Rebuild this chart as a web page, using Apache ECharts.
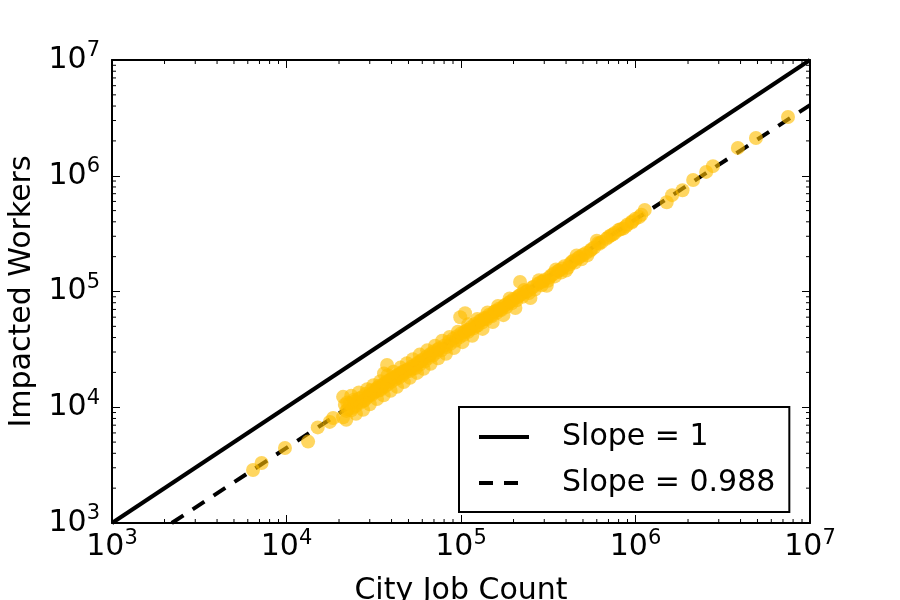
<!DOCTYPE html>
<html>
<head>
<meta charset="utf-8">
<script src="https://cdn.jsdelivr.net/npm/echarts@6/dist/echarts.min.js"></script>
<style>
  html, body { margin: 0; padding: 0; background: #fff; }
  #main { width: 900px; height: 600px; }
</style>
</head>
<body>
<div id="main"></div>
<script>
// city job count vs impacted workers
var cityPoints = [
  [6430, 2870], [7200, 3300], [9800, 4450], [13300, 5050], [15100, 6700], [17700, 7470],
  [18500, 8070], [21100, 8200], [21100, 12300], [21600, 10500], [22000, 9300], [22300, 11000],
  [22500, 9600], [23000, 10800], [23500, 9400], [24000, 9900], [24300, 11600], [24500, 11200],
  [25000, 10300], [25500, 10900], [26000, 11900], [26500, 10900], [27000, 12200], [27500, 11300],
  [28000, 11500], [28500, 13100], [29000, 12100], [29500, 12600], [30000, 12900], [30500, 14000],
  [31000, 12800], [31500, 13300], [32000, 13600], [32500, 14200], [33000, 14700], [33500, 13900],
  [34000, 15300], [34500, 14100], [35000, 14600], [35500, 15400], [36000, 15800], [36500, 15000],
  [37700, 23200], [36200, 19600], [37000, 16400], [38000, 15700], [38500, 16900], [39000, 17200],
  [40000, 16600], [40500, 17700], [41000, 18100], [42000, 17400], [42500, 18500], [43000, 18900],
  [44000, 18000], [44500, 19300], [45000, 19600], [46000, 18800], [46500, 20300], [47000, 20500],
  [48000, 19900], [49000, 21000], [50000, 21400], [51000, 20600], [52000, 22400], [53000, 21600],
  [54000, 22900], [55000, 21800], [56000, 23800], [57000, 24500], [58000, 23400], [59000, 25100],
  [60000, 25700], [62000, 25000], [63000, 27200], [65000, 26600], [66000, 28200], [67000, 29000],
  [69000, 28000], [70000, 30500], [72000, 29500], [74000, 31500], [75000, 32400], [77000, 31000],
  [80000, 34000], [82000, 33000], [85000, 36800], [87000, 35300], [90000, 39000], [93000, 37500],
  [95000, 41000], [98000, 40300], [100000, 43500], [103000, 42000], [105500, 65000], [99000, 60000],
  [108000, 46500], [110000, 44800], [114000, 49000], [118000, 48000], [120000, 52500], [125000, 51000],
  [128000, 55800], [132000, 54000], [136000, 59000], [140000, 57500], [145000, 63000], [150000, 61000],
  [155000, 67000], [160000, 65500], [165000, 71000], [170000, 69000], [176000, 75000], [182000, 73500],
  [188000, 80000], [195000, 79000], [200000, 86000], [208000, 84000], [218000, 121000], [215000, 92000],
  [225000, 90000], [235000, 99000], [245000, 97000], [255000, 108000], [265000, 104000], [275000, 116000],
  [290000, 113000], [300000, 126000], [315000, 124000], [330000, 138000], [345000, 135000], [360000, 150000],
  [375000, 146000], [390000, 165000], [410000, 160000], [430000, 180000], [450000, 178000], [470000, 195000],
  [490000, 190000], [520000, 215000], [550000, 225000], [580000, 240000], [610000, 262000], [640000, 268000],
  [680000, 285000], [720000, 305000], [760000, 320000], [800000, 340000], [850000, 350000], [900000, 380000],
  [950000, 395000], [1000000, 425000], [1050000, 440000], [1130000, 506000], [1510000, 590000], [1620000, 680000],
  [1860000, 750000], [2140000, 920000], [2540000, 1080000], [2780000, 1210000], [3860000, 1740000],
  [4900000, 2120000], [7480000, 3220000],
  [22000, 7800], [23500, 12600], [25000, 8800], [26000, 13400], [27500, 9500], [29000, 14300],
  [30000, 10600], [31500, 15500], [33000, 11800], [34500, 16800], [36000, 12700], [38000, 18900],
  [39500, 13900], [41000, 20300], [43000, 15000], [45000, 22000], [47000, 16500], [49000, 24000],
  [51000, 18000], [53000, 26000], [56000, 19800], [58000, 28500], [61000, 21500], [64000, 31000],
  [67000, 23700], [71000, 34000], [74000, 26500], [78000, 37500], [82000, 29000], [86000, 40500],
  [91000, 32500], [96000, 45000], [102000, 36500], [110000, 52000], [116000, 41500], [124000, 58000],
  [133000, 47500], [142000, 66000], [152000, 54500], [163000, 75000], [175000, 62500], [190000, 87000],
  [205000, 72000], [230000, 103000], [250000, 88000], [280000, 125000], [310000, 112000], [350000, 155000],
  [400000, 152000], [460000, 205000], [530000, 205000], [600000, 275000],
  [105000, 45000], [112000, 47000], [122000, 50000], [130000, 56000], [138000, 58500], [148000, 62000],
  [158000, 68000], [168000, 70000], [180000, 77000], [192000, 82000], [210000, 89000], [220000, 94000],
  [240000, 101000], [260000, 110000], [285000, 120000], [295000, 122000], [320000, 132000], [340000, 143000],
  [365000, 152000], [380000, 158000], [420000, 172000], [440000, 185000], [480000, 200000], [500000, 208000],
  [560000, 232000], [620000, 258000], [700000, 295000], [740000, 310000], [820000, 345000], [880000, 365000],
  [960000, 405000], [1080000, 460000]
];
var slopeOneLine = [[1000, 1000], [10000000, 10000000]];
var fitLine = [[2200, 1000], [10000000, 4080000]];
var minorTicks = [
  2e3, 3e3, 4e3, 5e3, 6e3, 7e3, 8e3, 9e3,
  2e4, 3e4, 4e4, 5e4, 6e4, 7e4, 8e4, 9e4,
  2e5, 3e5, 4e5, 5e5, 6e5, 7e5, 8e5, 9e5,
  2e6, 3e6, 4e6, 5e6, 6e6, 7e6, 8e6, 9e6
];

var FONT = 'DejaVu Sans';

function powLabel(v) {
  var e = Math.round(Math.log10(v));
  return '{b|10}{s|' + e + '}';
}
var labelRich = {
  b: { fontSize: 30, fontFamily: FONT, color: '#000', lineHeight: 39 },
  s: { fontSize: 21, fontFamily: FONT, color: '#000', lineHeight: 21, verticalAlign: 'top' }
};

function logAxis(pos, showLabel, name) {
  return {
    type: 'log',
    logBase: 10,
    min: 1000,
    max: 10000000,
    position: pos,
    name: name || '',
    nameLocation: 'middle',
    nameTextStyle: { fontSize: 30, fontFamily: FONT, color: '#000' },
    axisLine: { show: true, onZero: false, lineStyle: { color: '#000', width: 2 } },
    axisTick: { show: true, inside: true, length: 8, lineStyle: { color: '#000', width: 1 } },
    axisLabel: { show: showLabel, formatter: powLabel, rich: labelRich },
    splitLine: { show: false }
  };
}

var xBottom = logAxis('bottom', true, 'City Job Count');
xBottom.nameGap = 53;
xBottom.axisLabel.margin = 5;
var yLeft = logAxis('left', true, 'Impacted Workers');
yLeft.nameGap = 72;
yLeft.axisLabel.margin = 12;

var chart = echarts.init(document.getElementById('main'));
chart.setOption({
  animation: false,
  backgroundColor: '#fff',
  grid: { left: 112, right: 90, top: 60, bottom: 77, outerBoundsMode: 'none' },
  xAxis: [xBottom, logAxis('top', false)],
  yAxis: [yLeft, logAxis('right', false)],
  legend: {
    data: ['Slope = 1', 'Slope = 0.988'],
    orient: 'vertical',
    left: 459,
    top: 407,
    padding: [15, 14, 14, 18],
    borderColor: '#000',
    borderWidth: 2,
    itemWidth: 50,
    itemHeight: 14,
    itemGap: 16,
    itemStyle: { opacity: 0 },
    lineStyle: { width: 4 },
    textStyle: { fontSize: 30, fontFamily: FONT, color: '#000', padding: [0, 0, 0, 28] }
  },
  series: [
    {
      name: 'Slope = 1',
      type: 'line',
      data: slopeOneLine,
      symbol: 'none',
      itemStyle: { color: '#000' },
      lineStyle: { color: '#000', width: 4 },
      z: 2
    },
    {
      name: 'Slope = 0.988',
      type: 'line',
      data: fitLine,
      symbol: 'none',
      clip: true,
      itemStyle: { color: '#000' },
      lineStyle: { color: '#000', width: 4, type: [14, 11] },
      z: 2
    },
    {
      name: 'cities',
      type: 'scatter',
      data: cityPoints,
      symbol: 'circle',
      symbolSize: 14,
      itemStyle: { color: 'rgba(255,189,0,0.78)' },
      z: 3
    },
    {
      // minor ticks on all four sides
      type: 'custom',
      silent: true,
      clip: false,
      data: minorTicks.map(function (v) { return [v, v]; }),
      renderItem: function (params, api) {
        var cs = params.coordSys;
        var p = api.coord([api.value(0), api.value(1)]);
        var st = { stroke: '#000', lineWidth: 1 };
        var b = cs.y + cs.height, r = cs.x + cs.width;
        return {
          type: 'group',
          children: [
            { type: 'line', shape: { x1: p[0], y1: b, x2: p[0], y2: b - 4 }, style: st },
            { type: 'line', shape: { x1: p[0], y1: cs.y, x2: p[0], y2: cs.y + 4 }, style: st },
            { type: 'line', shape: { x1: cs.x, y1: p[1], x2: cs.x + 4, y2: p[1] }, style: st },
            { type: 'line', shape: { x1: r, y1: p[1], x2: r - 4, y2: p[1] }, style: st }
          ]
        };
      },
      z: 4
    }
  ]
});
</script>
</body>
</html>
